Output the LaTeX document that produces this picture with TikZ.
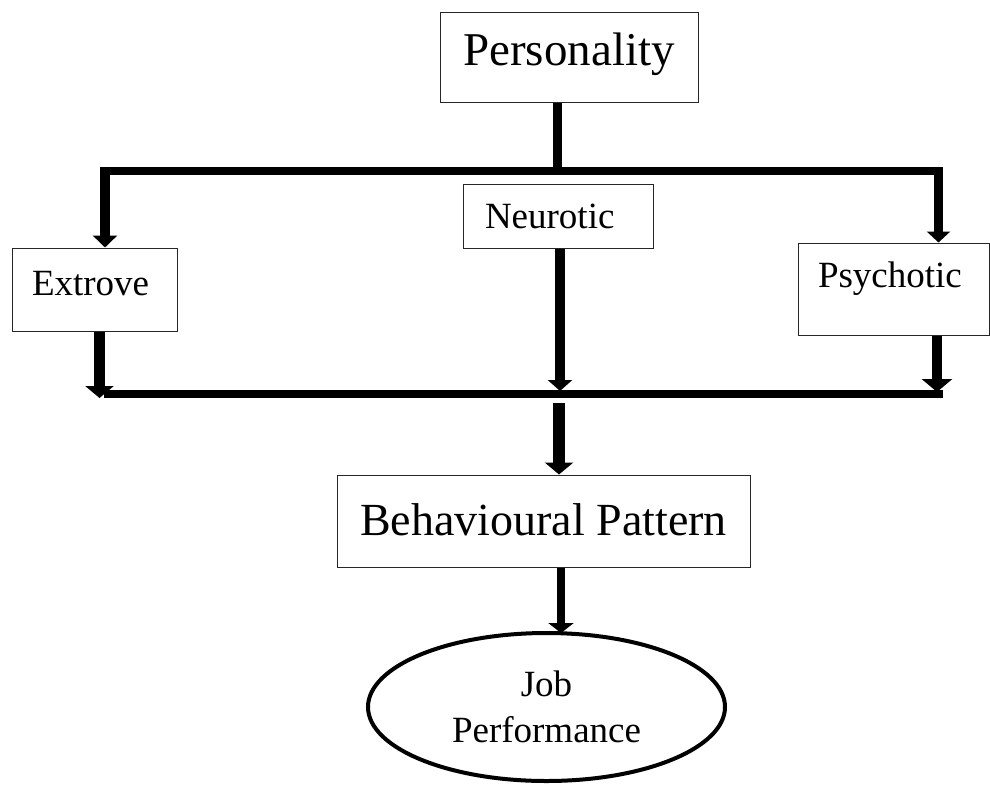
\documentclass[tikz,border=0pt]{standalone}
\usepackage{fontspec}
\setmainfont{Liberation Serif}
\usetikzlibrary{arrows.meta,shapes.geometric}

\begin{document}
\begin{tikzpicture}[x=1pt, y=-1pt,
  box/.style={draw=black!85, line width=1pt, inner sep=0pt, align=left, font=\fontsize{37}{44}\selectfont, text height=26pt},
  bigbox/.style={box, font=\fontsize{47}{56}\selectfont, text height=32pt},
  bar/.style={line width=7.5pt},
  stem/.style={line width=10pt, -{Triangle[width=24pt,length=12pt]}}]
\useasboundingbox (0,0) rectangle (990,785);
% boxes
\node[bigbox, minimum width=258pt, minimum height=90pt, text depth=16pt] (pers) at (569,57) {Personality};
\node[box, text width=146pt, minimum width=190pt, minimum height=64pt, text depth=2pt] (neur) at (558,216) {Neurotic};
\node[box, text width=125pt, minimum width=165pt, minimum height=83pt, text depth=15pt] (extr) at (94.5,289.5) {Extrove};
\node[box, text width=151pt, minimum width=191pt, minimum height=92pt, text depth=30pt] (psy) at (893.5,289) {Psychotic};
\node[bigbox, font=\fontsize{46}{55}\selectfont, minimum width=413pt, minimum height=92pt, text depth=4pt] (beh) at (543.5,521) {Behavioural Pattern};
\node[draw, ellipse, line width=4pt, minimum width=357pt, minimum height=148pt, inner sep=0pt, align=center, font=\fontsize{37}{46}\selectfont] (job) at (546.5,707) {Job\\Performance};
% junction points
\coordinate (tl) at (100,171);
\coordinate (tr) at (943,171);
\coordinate (tm) at (557.5,171);
\coordinate (lt) at (105,171);
\coordinate (rt) at (938.5,171);
\coordinate (bl) at (104,394);
\coordinate (br) at (943,394);
\coordinate (el) at (99.5,398);
\coordinate (nl) at (560,391);
\coordinate (pl) at (937,392);
\coordinate (bm) at (559,403);
\coordinate (jm) at (561,633);
% top split
\draw[bar] (tl) -- (tr);
\draw[line width=9pt] (pers.south -| tm) -- (tm);
\draw[stem] (lt) -- (lt |- extr.north);
\draw[stem, line width=9pt, -{Triangle[width=23pt,length=11pt]}] (rt) -- (rt |- psy.north);
% bottom join
\draw[bar] (bl) -- (br);
\draw[stem, line width=11pt, -{Triangle[width=28pt,length=12pt]}] (extr.south -| el) -- (el);
\draw[stem, -{Triangle[width=24pt,length=11pt]}] (neur.south -| nl) -- (nl);
\draw[stem, line width=10.5pt, -{Triangle[width=30pt,length=13pt]}] (psy.south -| pl) -- (pl);
\draw[stem, line width=12pt, -{Triangle[width=28pt,length=12pt]}] (bm) -- (bm |- beh.north);
\draw[stem, line width=8pt, -{Triangle[width=25pt,length=10pt]}] (beh.south -| jm) -- (jm);
\end{tikzpicture}
\end{document}
